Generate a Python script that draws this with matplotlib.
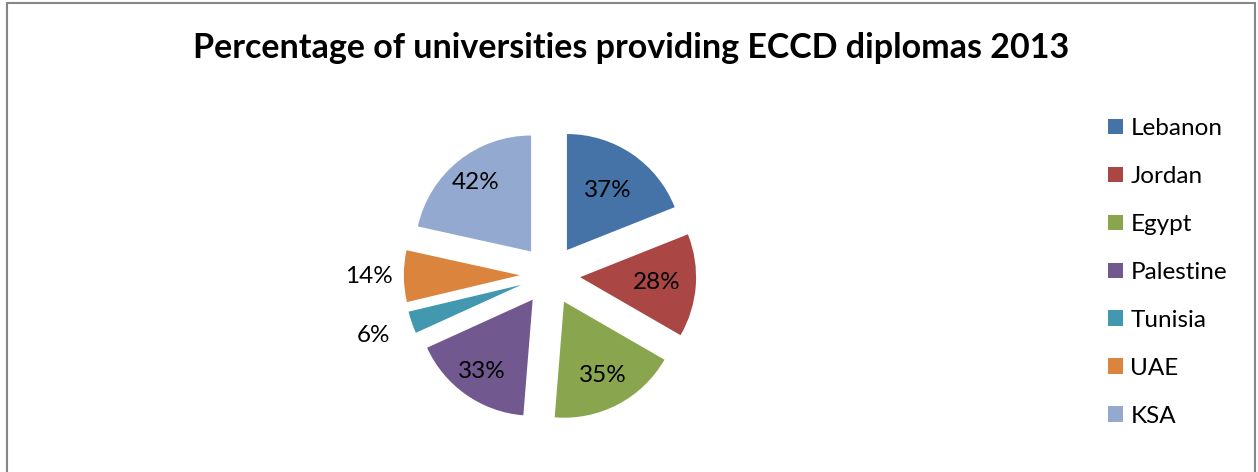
import numpy as np
import matplotlib.pyplot as plt
import matplotlib.patches as mpatches

# data
countries = ['Lebanon', 'Jordan', 'Egypt', 'Palestine', 'Tunisia', 'UAE', 'KSA']
percents = [37, 28, 35, 33, 6, 14, 42]

# office 2007 style palette
colors = ['#4572A7', '#AA4643', '#89A54E', '#71588F', '#4198AF', '#DB843D', '#93A9CF']
# where each label sits, as fraction of radius from the exploded slice center
label_dist = [0.62, 0.66, 0.72, 0.76, 1.35, 1.3, 0.76]

W, H = 1258, 472
R_PX = 116  # pie radius in pixels
CX, CY = 550, 275  # pie center in pixels (from top)

plt.rcParams['font.family'] = ['Lato', 'DejaVu Sans']

fig = plt.figure(figsize=(W / 100, H / 100), dpi=100)
fig.patch.set_facecolor('white')

half = 180
ax = fig.add_axes([(CX - half) / W, (H - CY - half) / H, 2 * half / W, 2 * half / H])
lim = half / R_PX
ax.axis('off')

explode = [0.26] * len(percents)
wedges, _ = ax.pie(percents, colors=colors, startangle=90, counterclock=False,
                   explode=explode, radius=1, wedgeprops=dict(linewidth=0))
ax.set_xlim(-lim, lim)
ax.set_ylim(-lim, lim)
ax.set_aspect('equal')

for w, p, d, e in zip(wedges, percents, label_dist, explode):
    ang = np.deg2rad((w.theta1 + w.theta2) / 2)
    r = e + d
    ax.text(r * np.cos(ang), r * np.sin(ang), f'{p}%', ha='center', va='center',
            fontsize=17.5, color='black')

fig.text(631 / W, 1 - 48 / H, 'Percentage of universities providing ECCD diplomas 2013',
         ha='center', va='center', fontsize=24.5, fontweight='bold')

fig.legend(wedges, countries, loc='upper left', bbox_to_anchor=(1108 / W, 1 - 118 / H),
           frameon=False, fontsize=17.5, handlelength=0.62, handleheight=0.62,
           handletextpad=0.3, labelspacing=1.11, borderaxespad=0, borderpad=0)

# outer chart border
fig.add_artist(mpatches.Rectangle((7 / W, -0.02), (1255 - 7) / W, 1 - 3 / H + 0.02,
                                  transform=fig.transFigure, fill=False,
                                  edgecolor='#868686', linewidth=1.5))

plt.savefig('out.png', dpi=100, facecolor='white')
plt.close()
